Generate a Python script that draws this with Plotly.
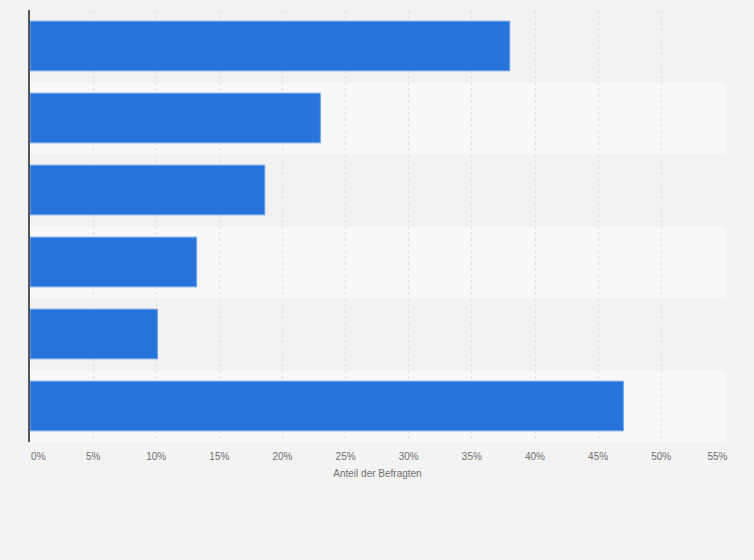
import plotly.graph_objects as go

# Survey answers (category names are not shown in the chart)
categories = ["Antwort 1", "Antwort 2", "Antwort 3", "Antwort 4", "Antwort 5", "Antwort 6"]
shares = [38.0, 23.0, 18.6, 13.2, 10.1, 47.0]

tick_values = [0, 5, 10, 15, 20, 25, 30, 35, 40, 45, 50, 55]
tick_labels = ["0%", "5%", "10%", "15%", "20%", "25%", "30%", "35%", "40%", "45%", "50%", "55%"]

# Statista pushes the outer labels inward a little
tick_labels[0] = "\u00a0" * 6 + tick_labels[0]
tick_labels[-1] = tick_labels[-1] + "\u00a0" * 5

fig = go.Figure()

fig.add_trace(go.Bar(
    x=shares,
    y=categories,
    orientation="h",
    width=0.69,
    marker=dict(color="#2775db", line=dict(color="#6fa3ea", width=1)),
    hovertemplate="%{x}%<extra></extra>",
))

# alternating background bands behind each row
for i in range(len(categories)):
    fig.add_shape(
        type="rect", xref="x domain", yref="y",
        x0=0, x1=1, y0=i - 0.5, y1=i + 0.5,
        fillcolor="#f2f2f2" if i % 2 == 0 else "#f8f8f8",
        line_width=0, layer="below",
    )

fig.update_layout(
    width=754,
    height=560,
    paper_bgcolor="#f3f3f3",
    plot_bgcolor="#f3f3f3",
    margin=dict(l=30, r=29, t=10, b=118),
    showlegend=False,
    font=dict(family="Liberation Sans, Arial, sans-serif", size=10, color="#666666"),
    xaxis=dict(
        range=[0, 55.05],
        tickvals=tick_values,
        ticktext=tick_labels,
        showgrid=True,
        gridcolor="#dedede",
        griddash="dot",
        gridwidth=1,
        zeroline=False,
        ticks="outside",
        ticklen=5,
        tickcolor="rgba(0,0,0,0)",
        tickfont=dict(size=10, color="#707070"),
        title=dict(text="Anteil der Befragten", font=dict(size=10, color="#707070"), standoff=8),
    ),
    yaxis=dict(
        autorange="reversed",
        showticklabels=False,
        showgrid=False,
        zeroline=False,
        showline=True,
        linecolor="#555555",
        linewidth=1.5,
    ),
)

# drop the browser's default page margin so the chart fills the window
page_fix = "document.body.style.margin='0';document.body.style.background='#f3f3f3';"

fig.write_html("out.html", post_script=page_fix, config={"displayModeBar": False})
